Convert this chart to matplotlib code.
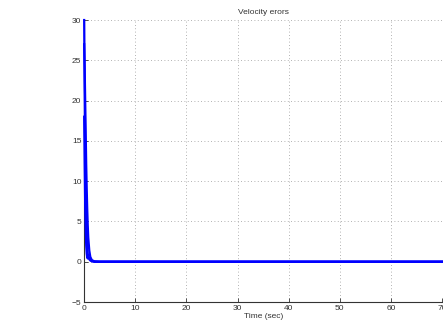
import numpy as np
import matplotlib.pyplot as plt

plt.rcParams["font.family"] = ["Liberation Sans", "DejaVu Sans"]

# time samples (sec) and velocity errors
t = [0, 0.1, 0.2, 0.3, 0.4, 0.5, 0.6, 0.7, 0.8, 1.0, 1.2, 1.5, 2.0, 3.0, 10, 30, 50, 70]
err_1 = [30, 21, 14, 9, 5.5, 3.2, 1.8, 1.0, 0.6, 0.3, 0.15, 0.05, 0.0, 0.0, 0.0, 0.0, 0.0, 0.0]
err_2 = [27, 24, 20, 16, 12, 9, 6.5, 4.5, 3.0, 1.4, 0.6, 0.2, 0.05, 0.0, 0.0, 0.0, 0.0, 0.0]
err_3 = [18, 12, 7, 4, 2, 1, 0.5, 0.4, 0.6, 0.5, 0.3, 0.1, 0.0, 0.0, 0.0, 0.0, 0.0, 0.0]

fig = plt.figure(figsize=(4.43, 3.23), dpi=100)
ax = fig.add_axes([0.19, 0.065, 0.808, 0.873])

for e in (err_1, err_2, err_3):
    ax.plot(t, e, color="#0000ff", linewidth=1.6, zorder=5, clip_on=False)

ax.set_xlim(0, 70)
ax.set_ylim(-5, 30)
ax.set_xticks(range(0, 71, 10))
ax.set_yticks(range(-5, 31, 5))
ax.set_yticklabels(["\u22125"] + [str(v) for v in range(0, 31, 5)])
ax.grid(True, linestyle=(0, (1, 3)), color="#999999", linewidth=0.6)
ax.tick_params(direction="in", labelsize=6, length=3, width=0.6, pad=2,
               colors="#333333")
for s in ("top", "right"):
    ax.spines[s].set_visible(False)
for s in ("left", "bottom"):
    ax.spines[s].set_linewidth(0.8)
    ax.spines[s].set_color("#333333")

ax.set_xlabel("Time (sec)", fontsize=6, labelpad=1, color="#333333")
ax.set_title("Velocity erors", fontsize=6, pad=4, color="#333333")

fig.savefig("out.png", dpi=100)
